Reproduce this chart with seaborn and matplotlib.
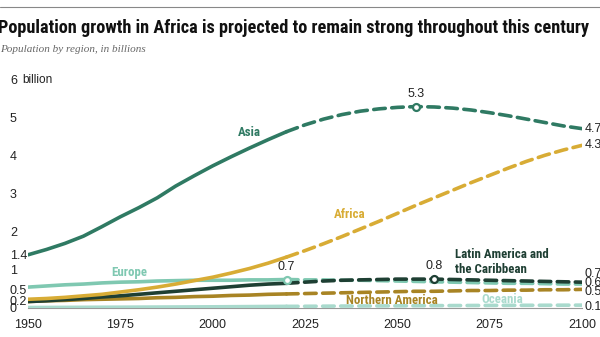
import matplotlib
matplotlib.use("Agg")
import matplotlib.pyplot as plt
import seaborn as sns
import pandas as pd
import numpy as np
from matplotlib.ticker import FixedLocator
from matplotlib import font_manager as fm

sns.set_theme(style="white")
plt.rcParams['font.family'] = ['Liberation Sans', 'DejaVu Sans']

years = [1950, 1955, 1960, 1965, 1970, 1975, 1980, 1985, 1990, 1995, 2000, 2005, 2010, 2015, 2020,
         2025, 2030, 2035, 2040, 2045, 2050, 2055, 2060, 2065, 2070, 2075, 2080, 2085, 2090, 2095, 2100]

asia = [1.40, 1.54, 1.70, 1.89, 2.14, 2.40, 2.64, 2.90, 3.21, 3.48, 3.74, 3.98, 4.21, 4.43, 4.64,
        4.82, 4.97, 5.09, 5.18, 5.24, 5.28, 5.30, 5.29, 5.26, 5.21, 5.14, 5.06, 4.97, 4.88, 4.79, 4.72]
africa = [0.23, 0.25, 0.28, 0.32, 0.36, 0.42, 0.48, 0.55, 0.63, 0.72, 0.81, 0.92, 1.04, 1.18, 1.34,
          1.51, 1.69, 1.88, 2.08, 2.28, 2.49, 2.70, 2.90, 3.10, 3.30, 3.49, 3.68, 3.86, 4.02, 4.16, 4.28]
europe = [0.55, 0.58, 0.61, 0.63, 0.66, 0.68, 0.69, 0.71, 0.72, 0.73, 0.73, 0.73, 0.74, 0.74, 0.75,
          0.74, 0.74, 0.73, 0.73, 0.72, 0.71, 0.70, 0.69, 0.68, 0.67, 0.66, 0.65, 0.65, 0.64, 0.63, 0.63]
latam = [0.17, 0.19, 0.22, 0.25, 0.29, 0.32, 0.36, 0.40, 0.44, 0.48, 0.52, 0.56, 0.60, 0.63, 0.65,
         0.68, 0.71, 0.73, 0.74, 0.75, 0.76, 0.76, 0.76, 0.75, 0.74, 0.73, 0.72, 0.71, 0.70, 0.69, 0.68]
namerica = [0.17, 0.19, 0.20, 0.22, 0.23, 0.24, 0.25, 0.27, 0.28, 0.30, 0.31, 0.33, 0.34, 0.36, 0.37,
            0.38, 0.39, 0.40, 0.41, 0.42, 0.43, 0.44, 0.44, 0.45, 0.46, 0.46, 0.47, 0.47, 0.48, 0.48, 0.49]
oceania = [0.013, 0.014, 0.016, 0.018, 0.020, 0.021, 0.023, 0.025, 0.027, 0.029, 0.031, 0.034, 0.037, 0.040, 0.043,
           0.045, 0.048, 0.051, 0.053, 0.055, 0.057, 0.060, 0.062, 0.064, 0.066, 0.068, 0.070, 0.071, 0.072, 0.074, 0.075]

LATAM = "Latin America and\nthe Caribbean"
regions = ["Oceania", "Northern America", "Europe", LATAM, "Africa", "Asia"]
series = [oceania, namerica, europe, latam, africa, asia]
colors = {"Asia": "#2f7a63", "Africa": "#d8ac35", "Europe": "#7fc8b1",
          LATAM: "#1e3f33", "Northern America": "#a88424", "Oceania": "#a9dacd"}

ytick_vals = [0, 0.2, 0.5, 1, 1.4, 2, 3, 4, 5, 6]
ytick_labels = ["0", "0.2", "0.5", "1", "1.4", "2", "3", "4", "5", "6"]
xtick_vals = [1950, 1975, 2000, 2025, 2050, 2075, 2100]
end_labels = {"Asia": "4.7", "Africa": "4.3", LATAM: "0.7",
              "Europe": "0.6", "Northern America": "0.5", "Oceania": "0.1"}
peak_marks = [("Asia", 2055, "5.3"), ("Europe", 2020, "0.7"), (LATAM, 2060, "0.8")]
TITLE = "Population growth in Africa is projected to remain strong throughout this century"
SUBTITLE = "Population by region, in billions"


def pick_condensed_bold():
    best = None
    for f in fm.fontManager.ttflist:
        fn = f.fname.lower()
        nm = f.name.lower()
        if ("condensed" in fn or "narrow" in fn or "condensed" in nm or "narrow" in nm) and \
                ("bold" in fn or (isinstance(f.weight, int) and f.weight >= 600) or f.weight == "bold"):
            if "extra" in fn or "semi" in fn or "black" in fn or "italic" in fn or "oblique" in fn or "mono" in fn:
                continue
            score = 0
            if "liberation" in fn:
                score = 4
            elif "roboto" in fn:
                score = 3
            elif "notosans-" in fn:
                score = 2
            elif "dejavu" in fn:
                score = 1
            if best is None or score > best[0]:
                best = (score, f.fname)
    if best:
        return fm.FontProperties(fname=best[1])
    return fm.FontProperties(family="Liberation Sans", weight="bold")


cond = pick_condensed_bold()

rows = []
for r, vals in zip(regions, series):
    for y, v in zip(years, vals):
        rows.append({"region": r, "year": y, "pop": v})
df = pd.DataFrame(rows)

fig = plt.figure(figsize=(6.0, 3.37), dpi=100)
ax = fig.add_axes([28/600, 1 - 308/337, (582-28)/600, (308-80)/337])

lw = 2.6
for r in regions:
    sub = df[df.region == r]
    hist = sub[sub.year <= 2020]
    proj = sub[sub.year >= 2020]
    sns.lineplot(data=hist, x="year", y="pop", ax=ax, color=colors[r], lw=lw, legend=False)
    ax.lines[-1].set_solid_capstyle("round")
    sns.lineplot(data=proj, x="year", y="pop", ax=ax, color=colors[r], lw=lw, legend=False)
    ax.lines[-1].set_linestyle((0, (3.2, 1.8)))
    ax.lines[-1].set_dash_capstyle("round")

ax.set_xlim(1950, 2100)
ax.set_ylim(0, 6)
ax.set_xlabel("")
ax.set_ylabel("")

ax.set_yticks(ytick_vals)
ax.set_yticklabels(ytick_labels)
ax.yaxis.set_minor_locator(FixedLocator([1, 2, 3, 4, 5, 6]))
ax.grid(which="minor", axis="y", color="#ececec", lw=0.8)
ax.grid(which="major", visible=False)
ax.tick_params(axis="y", which="both", length=0, pad=13, labelsize=9, labelcolor="#222222")
for t in ax.get_yticklabels():
    t.set_horizontalalignment("left")
ax.set_xticks(xtick_vals)
ax.set_xticklabels([str(x) for x in xtick_vals])
ax.tick_params(axis="x", length=4, width=0.8, color="#999999", direction="inout",
               labelsize=9, labelcolor="#222222", pad=6)
for s in ["top", "right", "left"]:
    ax.spines[s].set_visible(False)
ax.spines["bottom"].set_color("#999999")
ax.spines["bottom"].set_linewidth(0.8)
ax.set_axisbelow(True)
for ln in ax.lines:
    ln.set_zorder(3)

ax.annotate("billion", xy=(0, 6), xycoords=("axes fraction", "data"), xytext=(-4, 0),
            textcoords="offset points", fontsize=8.5, color="#222222", va="center", ha="left",
            bbox=dict(boxstyle="square,pad=0.25", fc="white", ec="none"), zorder=2)

end_shift = {"Asia": 0, "Africa": 0, LATAM: 6, "Europe": 1, "Northern America": -2, "Oceania": -1}
for r, vals in zip(regions, series):
    ax.annotate(end_labels[r], xy=(2100, vals[-1]), xytext=(2, end_shift[r]),
                textcoords="offset points", fontsize=9, color="#222222", va="center", ha="left",
                annotation_clip=False)

data_map = dict(zip(regions, series))
for r, yr, lab in peak_marks:
    v = data_map[r][years.index(yr)]
    ax.plot([yr], [v], marker="o", ms=5, mfc="white", mec=colors[r], mew=1.6, zorder=5)
    ax.annotate(lab, xy=(yr, v), xytext=(0, 5), textcoords="offset points",
                fontsize=9, color="#222222", ha="center", va="bottom")

lab_size = 9.5
ax.text(2010, 4.62, "Asia", color=colors["Asia"], ha="center", va="center", fontproperties=cond, fontsize=lab_size)
ax.text(2037, 2.45, "Africa", color=colors["Africa"], ha="center", va="center", fontproperties=cond, fontsize=lab_size)
ax.text(1977.5, 0.93, "Europe", color=colors["Europe"], ha="center", va="center", fontproperties=cond, fontsize=lab_size)
ax.text(2065.5, 1.2, LATAM, color=colors[LATAM], ha="left", va="center", linespacing=1.2,
        fontproperties=cond, fontsize=lab_size)
ax.text(2048.5, 0.21, "Northern America", color=colors["Northern America"], ha="center", va="center",
        fontproperties=cond, fontsize=lab_size)
ax.text(2078.5, 0.23, "Oceania", color=colors["Oceania"], ha="center", va="center",
        fontproperties=cond, fontsize=lab_size)

fig.add_artist(plt.Line2D([0, 1], [1 - 7/337, 1 - 7/337], color="#888888", lw=0.8))
title = fig.text(-0.003, 1 - 28/337, TITLE, fontproperties=cond, fontsize=14,
                 color="#111111", va="center", ha="left")
subt = fig.text(0.0, 1 - 50/337, SUBTITLE, fontsize=8, style="italic",
                family=["Liberation Serif", "DejaVu Serif"], color="#666666", va="center", ha="left")

fig.canvas.draw()
r_ = fig.canvas.get_renderer()
w = title.get_window_extent(r_).width
if w > 594:
    title.set_fontsize(14 * 594 / w)
cf = cond.get_file()
for t in ax.texts:
    if t.get_text() == "Northern America":
        wn = t.get_window_extent(r_).width
        if wn > 92 and cf:
            scale = 92 / wn
            for t2 in ax.texts:
                if t2.get_fontproperties().get_file() == cf:
                    t2.set_fontsize(lab_size * scale)

fig.savefig("out.png", dpi=100)
